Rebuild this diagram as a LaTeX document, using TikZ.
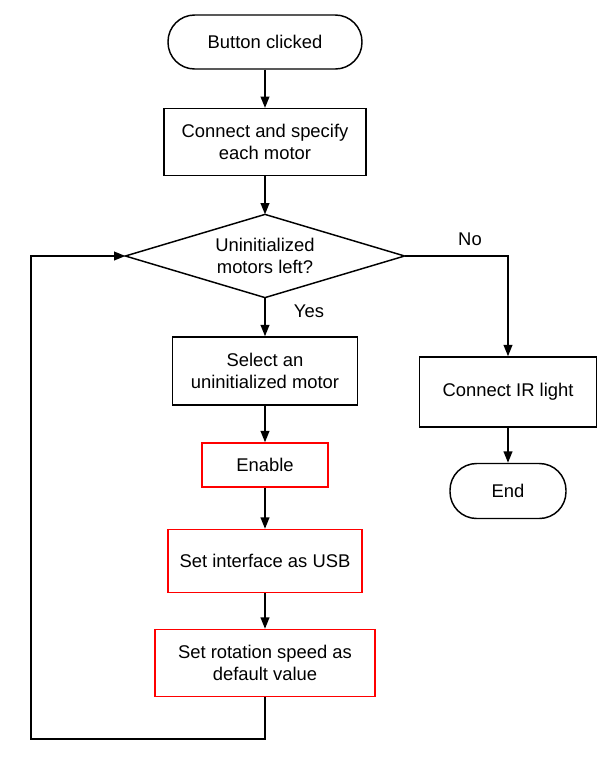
\documentclass[tikz,border=0pt]{standalone}
\usepackage{fontspec}
\setmainfont{Liberation Sans}
\usetikzlibrary{arrows.meta}
\definecolor{FCRed}{HTML}{FF0000}

\begin{document}
\begin{tikzpicture}[x=0.75pt,y=-0.75pt,
  font=\fontsize{13.8}{16.5}\selectfont,
  flowline/.style={line width=1.3pt},
  arr/.style={flowline,-{Triangle[length=8.5pt,width=6.5pt]}},
  terminal/.style={draw,line width=1.1pt,rounded corners=20pt,align=center,inner sep=0pt},
  process/.style={draw,line width=1.1pt,align=center,inner sep=0pt},
  redproc/.style={draw=FCRed,line width=1.1pt,align=center,inner sep=0pt},
  decision/.style={align=center,inner sep=0pt}]
\path[use as bounding box] (0,0) rectangle (614,765);
\node[terminal,minimum width=145.5pt,minimum height=40.5pt] (start) at (265,42) {Button clicked};
\node[process,minimum width=151.5pt,minimum height=50pt] (connect) at (265,142) {Connect and specify\\each motor};
\node[decision,minimum width=209pt,minimum height=62pt] (check) at (265,256) {Uninitialized\\motors left?};
\draw[line width=1.1pt,line join=miter] (check.north) -- (check.east) -- (check.south) -- (check.west) -- cycle;
\node[process,minimum width=138.75pt,minimum height=51pt] (select) at (265,371) {Select an\\uninitialized motor};
\node[redproc,minimum width=94.5pt,minimum height=33pt] (enable) at (265,465) {Enable};
\node[redproc,minimum width=145.5pt,minimum height=47.25pt] (usb) at (265,561) {Set interface as USB};
\node[redproc,minimum width=165pt,minimum height=50.25pt] (speed) at (265,663) {Set rotation speed as\\default value};
\node[process,minimum width=132.75pt,minimum height=52.5pt] (irlight) at (508,392) {Connect IR light};
\node[terminal,minimum width=87pt,minimum height=41.25pt] (finish) at (508,491) {End};
\node (yes) at (309,311) {Yes};
\node (no) at (470,239) {No};
\coordinate (loop) at (31,739);
\draw[arr] (start) -- (connect);
\draw[arr] (connect) -- (check.north);
\draw[arr] (check.south) -- (select);
\draw[arr] (select) -- (enable);
\draw[arr] (enable) -- (usb);
\draw[arr] (usb) -- (speed);
\draw[arr] (speed.south) |- (loop) |- (check.west);
\draw[arr] (check.east) -| (irlight.north);
\draw[arr] (irlight) -- (finish);
\end{tikzpicture}
\end{document}
